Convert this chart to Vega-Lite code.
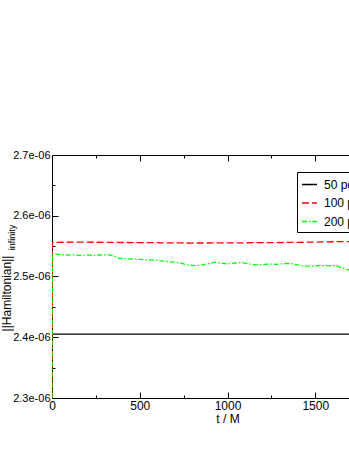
{
  "$schema": "https://vega.github.io/schema/vega-lite/v6.json",
  "width": 351,
  "height": 243,
  "autosize": {"type": "none"},
  "padding": {"left": 52, "top": 155, "right": 0, "bottom": 53},
  "background": "white",
  "config": {
    "view": {"stroke": "black", "strokeWidth": 1},
    "font": "Liberation Sans",
    "axis": {"domain": false, "grid": false, "labelFont": "Liberation Sans", "titleFont": "Liberation Sans", "labelColor": "black", "titleColor": "black", "tickColor": "black", "titleFontWeight": "normal", "labelFlush": false, "labelOverlap": false}
  },
  "data": {"values": [
    {"series": "50 points", "t": 0, "h": 2.3e-06},
    {"series": "50 points", "t": 2, "h": 2.405e-06},
    {"series": "50 points", "t": 500, "h": 2.405e-06},
    {"series": "50 points", "t": 1000, "h": 2.4051e-06},
    {"series": "50 points", "t": 1500, "h": 2.4052e-06},
    {"series": "50 points", "t": 2000, "h": 2.4053e-06},
    {"series": "100 points", "t": 0, "h": 2.3e-06},
    {"series": "100 points", "t": 2, "h": 2.5563e-06},
    {"series": "100 points", "t": 200, "h": 2.5565e-06},
    {"series": "100 points", "t": 400, "h": 2.556e-06},
    {"series": "100 points", "t": 600, "h": 2.5556e-06},
    {"series": "100 points", "t": 800, "h": 2.5551e-06},
    {"series": "100 points", "t": 1000, "h": 2.5553e-06},
    {"series": "100 points", "t": 1200, "h": 2.5557e-06},
    {"series": "100 points", "t": 1400, "h": 2.5562e-06},
    {"series": "100 points", "t": 1600, "h": 2.5572e-06},
    {"series": "100 points", "t": 1800, "h": 2.558e-06},
    {"series": "100 points", "t": 2000, "h": 2.5585e-06},
    {"series": "200 points", "t": 0, "h": 2.3e-06},
    {"series": "200 points", "t": 2, "h": 2.537e-06},
    {"series": "200 points", "t": 40, "h": 2.5365e-06},
    {"series": "200 points", "t": 80, "h": 2.5352e-06},
    {"series": "200 points", "t": 120, "h": 2.5358e-06},
    {"series": "200 points", "t": 160, "h": 2.5347e-06},
    {"series": "200 points", "t": 200, "h": 2.5355e-06},
    {"series": "200 points", "t": 240, "h": 2.5345e-06},
    {"series": "200 points", "t": 280, "h": 2.5355e-06},
    {"series": "200 points", "t": 320, "h": 2.536e-06},
    {"series": "200 points", "t": 350, "h": 2.5342e-06},
    {"series": "200 points", "t": 380, "h": 2.530e-06},
    {"series": "200 points", "t": 420, "h": 2.5295e-06},
    {"series": "200 points", "t": 460, "h": 2.5285e-06},
    {"series": "200 points", "t": 500, "h": 2.5283e-06},
    {"series": "200 points", "t": 540, "h": 2.5275e-06},
    {"series": "200 points", "t": 580, "h": 2.527e-06},
    {"series": "200 points", "t": 620, "h": 2.5258e-06},
    {"series": "200 points", "t": 660, "h": 2.5245e-06},
    {"series": "200 points", "t": 700, "h": 2.5235e-06},
    {"series": "200 points", "t": 740, "h": 2.5215e-06},
    {"series": "200 points", "t": 780, "h": 2.5185e-06},
    {"series": "200 points", "t": 820, "h": 2.518e-06},
    {"series": "200 points", "t": 860, "h": 2.5195e-06},
    {"series": "200 points", "t": 900, "h": 2.5215e-06},
    {"series": "200 points", "t": 930, "h": 2.5235e-06},
    {"series": "200 points", "t": 960, "h": 2.522e-06},
    {"series": "200 points", "t": 1000, "h": 2.5205e-06},
    {"series": "200 points", "t": 1040, "h": 2.522e-06},
    {"series": "200 points", "t": 1080, "h": 2.523e-06},
    {"series": "200 points", "t": 1120, "h": 2.521e-06},
    {"series": "200 points", "t": 1160, "h": 2.5192e-06},
    {"series": "200 points", "t": 1200, "h": 2.5198e-06},
    {"series": "200 points", "t": 1240, "h": 2.5205e-06},
    {"series": "200 points", "t": 1280, "h": 2.52e-06},
    {"series": "200 points", "t": 1320, "h": 2.5212e-06},
    {"series": "200 points", "t": 1360, "h": 2.5215e-06},
    {"series": "200 points", "t": 1400, "h": 2.519e-06},
    {"series": "200 points", "t": 1440, "h": 2.517e-06},
    {"series": "200 points", "t": 1480, "h": 2.517e-06},
    {"series": "200 points", "t": 1520, "h": 2.518e-06},
    {"series": "200 points", "t": 1560, "h": 2.518e-06},
    {"series": "200 points", "t": 1600, "h": 2.5178e-06},
    {"series": "200 points", "t": 1630, "h": 2.5165e-06},
    {"series": "200 points", "t": 1660, "h": 2.5135e-06},
    {"series": "200 points", "t": 1690, "h": 2.5108e-06},
    {"series": "200 points", "t": 1720, "h": 2.509e-06}
  ]},
  "layer": [
    {
      "mark": {"type": "line", "strokeWidth": 1.3, "clip": true},
      "encoding": {
        "x": {"field": "t", "type": "quantitative", "scale": {"domain": [0, 2000], "nice": false},
          "axis": {"orient": "bottom", "values": [0, 250, 500, 750, 1000, 1250, 1500, 1750, 2000], "format": "d",
            "labelExpr": "datum.value % 500 === 0 ? datum.label : ''",
            "tickSize": {"condition": {"test": "datum.value % 500 === 0", "value": -6}, "value": -3},
            "labelPadding": 8, "labelFontSize": 12,
            "title": "t / M", "titleFontSize": 12, "titleY": 15, "titleBaseline": "top"}},
        "y": {"field": "h", "type": "quantitative", "scale": {"domain": [2.3e-06, 2.7e-06], "nice": false, "zero": false},
          "axis": {"orient": "left", "values": [2.3e-06, 2.35e-06, 2.4e-06, 2.45e-06, 2.5e-06, 2.55e-06, 2.6e-06, 2.65e-06, 2.7e-06],
            "labelExpr": "round(datum.value*1e8) % 10 === 0 ? replace(format(datum.value, '.1e'), 'e-', 'e-0') : ''",
            "tickSize": {"condition": {"test": "round(datum.value*1e8) % 10 === 0", "value": -6}, "value": -3},
            "labelPadding": 8, "labelFontSize": 11,
            "title": "||Hamiltonian||", "titleFontSize": 12, "titleX": -42, "titleY": 138, "titleBaseline": "alphabetic", "titleAngle": -90, "titleAlign": "center"}},
        "color": {"field": "series", "type": "nominal",
          "scale": {"domain": ["50 points", "100 points", "200 points"], "range": ["#000000", "#ff0000", "#00ff00"]},
          "legend": {"orient": "none", "legendX": 245, "legendY": 17, "title": null, "strokeColor": "black", "fillColor": "white", "padding": 4, "symbolType": "stroke", "symbolSize": 225, "symbolStrokeWidth": 1.3, "labelFontSize": 12, "labelOffset": 6, "rowPadding": 3.5, "labelFont": "Liberation Sans", "labelColor": "black", "cornerRadius": 0}},
        "strokeDash": {"field": "series", "type": "nominal",
          "scale": {"domain": ["50 points", "100 points", "200 points"], "range": [[1, 0], [7, 3], [5, 2, 1.5, 2]]},
          "legend": {"orient": "none", "legendX": 245, "legendY": 17, "title": null, "strokeColor": "black", "fillColor": "white", "padding": 4, "symbolType": "stroke", "symbolSize": 225, "symbolStrokeWidth": 1.3, "labelFontSize": 12, "labelOffset": 6, "rowPadding": 3.5, "labelFont": "Liberation Sans", "labelColor": "black", "cornerRadius": 0}}
      }
    },
    {
      "mark": {"type": "line", "opacity": 0},
      "encoding": {
        "x": {"field": "t", "type": "quantitative",
          "axis": {"orient": "top", "values": [0, 250, 500, 750, 1000, 1250, 1500, 1750, 2000], "labels": false, "title": null,
            "tickSize": {"condition": {"test": "datum.value % 500 === 0", "value": -6}, "value": -3}}},
        "y": {"field": "h", "type": "quantitative",
          "axis": {"orient": "left", "labels": false, "ticks": false, "title": "infinity", "titleFontSize": 9, "titleX": -38, "titleY": 82, "titleBaseline": "alphabetic", "titleAngle": -90, "titleAlign": "center"}}
      }
    }
  ],
  "resolve": {"axis": {"x": "independent", "y": "independent"}}
}
